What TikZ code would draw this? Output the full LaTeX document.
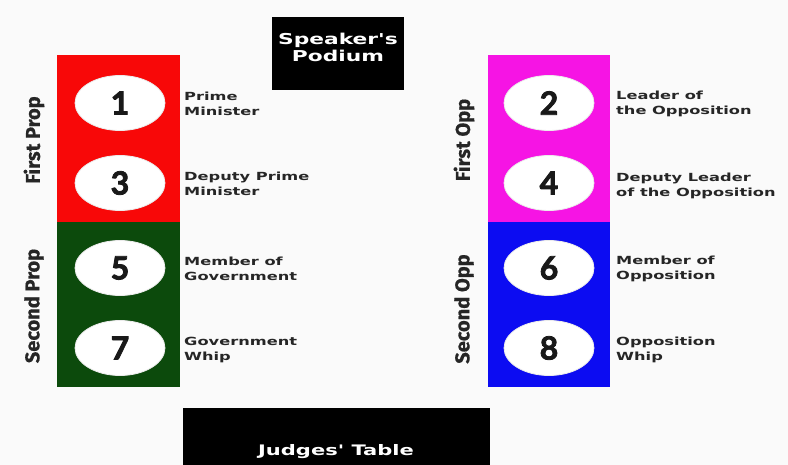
\documentclass[tikz,border=0pt]{standalone}
\usepackage{fontspec}
\usetikzlibrary{shapes.geometric}
\newfontfamily\widefont[FakeStretch=1.45]{DejaVu Sans Bold}
\newfontfamily\numfont[FakeBold=2.5]{Lato Bold}
\newfontfamily\sidefont[FakeBold=0.6]{Fira Sans Bold}
\definecolor{bgcol}{RGB}{250,250,250}
\definecolor{propred}{RGB}{248,8,8}
\definecolor{propgreen}{RGB}{12,74,12}
\definecolor{oppmag}{RGB}{246,20,228}
\definecolor{oppblue}{RGB}{12,12,242}
\tikzset{
  seat/.style={ellipse, fill=white, draw=white!92!black, line width=0.8pt, minimum width=90pt, minimum height=55pt, inner sep=0pt, font=\numfont\fontsize{32}{34}\selectfont, text=black!90},
  role/.style={anchor=west, align=left, inner sep=0pt, font=\widefont\fontsize{11.2}{15}\selectfont, text=black!85},
  team/.style={rotate=90, inner sep=0pt, font=\sidefont\fontsize{20}{22}\selectfont, text=black!85},
  furn/.style={align=center, inner sep=0pt, text=white, font=\widefont\fontsize{15}{17}\selectfont}
}
\begin{document}
\begin{tikzpicture}[x=1pt,y=-1pt]
\fill[bgcol] (0,0) rectangle (788,465);
\useasboundingbox (0,0) rectangle (788,465);
% benches
\fill[propred] (57,55) rectangle (180,222);
\fill[propgreen] (57,222) rectangle (180,387);
\fill[oppmag] (488,55) rectangle (610,222);
\fill[oppblue] (488,222) rectangle (610,387);
% furniture
\fill[black] (272,17) rectangle (404,90);
\node[furn] (podium) at (338,47.5) {Speaker's\\Podium};
\fill[black] (183,408) rectangle (490,465);
\node[furn, font=\widefont\fontsize{14.5}{17}\selectfont] (judges) at (336,452) {Judges' Table};
% seats
\node[seat] (s1) at (120,103) {1};
\node[seat] (s3) at (120,183) {3};
\node[seat] (s5) at (120,268) {5};
\node[seat] (s7) at (120,348) {7};
\node[seat] (s2) at (549,103) {2};
\node[seat] (s4) at (549,183) {4};
\node[seat] (s6) at (549,268) {6};
\node[seat] (s8) at (549,348) {8};
% roles
\node[role] (r1) at (184,104) {Prime\\Minister};
\node[role] (r3) at (184,184) {Deputy Prime\\Minister};
\node[role] (r5) at (184,269) {Member of\\Government};
\node[role] (r7) at (184,350) {Government\\Whip};
\node[role] (r2) at (616,104) {Leader of\\the Opposition};
\node[role] (r4) at (616,186) {Deputy Leader\\of the Opposition};
\node[role] (r6) at (616,269) {Member of\\Opposition};
\node[role] (r8) at (616,350) {Opposition\\Whip};
% teams
\node[team] (t1) at (34,140) {First Prop};
\node[team] (t2) at (34,306) {Second Prop};
\node[team] (t3) at (464,140) {First Opp};
\node[team] (t4) at (464,309) {Second Opp};
\end{tikzpicture}
\end{document}
